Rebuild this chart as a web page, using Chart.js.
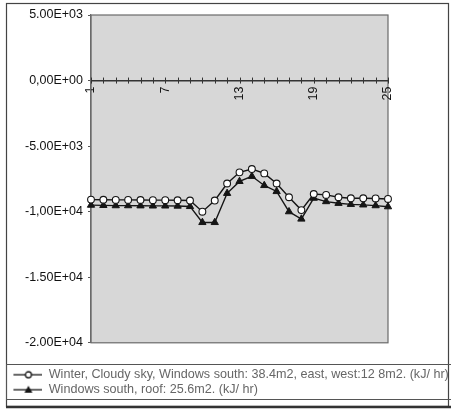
<!DOCTYPE html>
<html>
<head>
<meta charset="utf-8">
<script src="https://cdn.jsdelivr.net/npm/chart.js@4.4.1/dist/chart.umd.min.js"></script>
<style>
  html, body { margin: 0; padding: 0; background: #fff; }
  #wrap { width: 451px; height: 412px; position: relative; }
</style>
</head>
<body>
<div id="wrap"><canvas id="heat-chart"></canvas></div>
<script>
// hours of the day
const hours = ['1','2','3','4','5','6','7','8','9','10','11','12','13','14','15','16','17','18','19','20','21','22','23','24','25'];

// Winter, cloudy sky, windows south 38.4m2, east/west 12.8m2 (kJ/hr)
const winterCloudy = [-9080, -9090, -9100, -9100, -9110, -9120, -9120, -9130, -9150, -10000, -9150, -7850, -7000, -6750, -7080, -7850, -8900, -9880, -8650, -8720, -8900, -8980, -8980, -8990, -9030];

// Windows south, roof 25.6m2 (kJ/hr)
const southRoof = [-9500, -9520, -9540, -9540, -9550, -9560, -9560, -9570, -9600, -10820, -10820, -8600, -7690, -7300, -8000, -8460, -10000, -10560, -8970, -9230, -9360, -9440, -9480, -9540, -9620];

const seriesNames = [
    'Winter, Cloudy sky, Windows south: 38.4m2, east, west:12 8m2. (kJ/ hr)',
    'Windows south, roof: 25.6m2. (kJ/ hr)'
];

// y tick labels, bottom to top
const yTickLabels = ['-2.00E+04', '-1.50E+04', '-1,00E+04', '-5.00E+03', '0,00E+00', '5.00E+03'];
const shownHours = ['1', '7', '13', '19', '25'];

const ink = '#151515';

// legend symbol: short line with the marker in the middle
function legend_symbol(marker) {
    const c = document.createElement('canvas');
    c.width = 40;
    c.height = 10;
    const g = c.getContext('2d');
    g.strokeStyle = ink;
    g.lineWidth = 1.3;
    g.beginPath();
    g.moveTo(11, 5);
    g.lineTo(40, 5);
    g.stroke();
    if (marker === 'circle') {
        g.fillStyle = '#fff';
        g.beginPath();
        g.arc(26, 5, 3, 0, Math.PI * 2);
        g.fill();
        g.stroke();
    } else {
        g.fillStyle = ink;
        g.beginPath();
        g.moveTo(26, 1);
        g.lineTo(30, 8);
        g.lineTo(22, 8);
        g.closePath();
        g.fill();
    }
    return c;
}
const symbols = [legend_symbol('circle'), legend_symbol('triangle')];

// grey plot background, frame, axis tick marks and outer boxes
const framePlugin = {
    id: 'frame',
    beforeDatasetsDraw(chart) {
        const ctx = chart.ctx;
        ctx.save();
        ctx.strokeStyle = '#333';
        ctx.lineWidth = 1;
        const xs = chart.scales.x;
        const y0 = chart.scales.y.getPixelForValue(0);
        for (let i = 0; i < hours.length; i++) {
            const x = Math.round(xs.getPixelForValue(i)) + 0.5;
            ctx.beginPath();
            ctx.moveTo(x, y0 - 3);
            ctx.lineTo(x, y0 + 3);
            ctx.stroke();
        }
        ctx.restore();
    },
    beforeDraw(chart) {
        const a = chart.chartArea;
        const ctx = chart.ctx;
        ctx.save();
        ctx.fillStyle = '#d7d7d7';
        ctx.fillRect(a.left, a.top, a.right - a.left, a.bottom - a.top);
        ctx.strokeStyle = '#6a6a6a';
        ctx.lineWidth = 1.2;
        ctx.strokeRect(a.left, a.top, a.right - a.left, a.bottom - a.top);
        ctx.restore();
    },
    afterDraw(chart) {
        const ctx = chart.ctx;
        ctx.save();
        ctx.strokeStyle = '#444';
        ctx.lineWidth = 1.2;
        ctx.strokeRect(6.5, 3.5, 442, 403);
        ctx.strokeStyle = '#555';
        ctx.lineWidth = 1;
        ctx.strokeRect(6.5, 364.5, 450, 35);
        ctx.lineWidth = 2.5;
        ctx.strokeStyle = '#333';
        ctx.beginPath();
        ctx.moveTo(6, 407);
        ctx.lineTo(451, 407);
        ctx.stroke();
        ctx.restore();
    }
};

const data = {
    labels: hours,
    datasets: [
        {
            label: seriesNames[0],
            data: winterCloudy,
            borderColor: ink,
            borderWidth: 1.4,
            pointStyle: 'circle',
            pointRadius: 3.4,
            pointBackgroundColor: '#fff',
            pointBorderColor: ink,
            pointBorderWidth: 1.1,
            tension: 0
        },
        {
            label: seriesNames[1],
            data: southRoof,
            borderColor: ink,
            borderWidth: 1.4,
            pointStyle: 'triangle',
            pointRadius: 4.2,
            pointBackgroundColor: ink,
            pointBorderColor: ink,
            pointBorderWidth: 1,
            tension: 0
        }
    ]
};

const tickFont = { family: 'Liberation Sans, Arial, sans-serif', size: 12.5 };

const options = {
    responsive: true,
    maintainAspectRatio: false,
    animation: false,
    layout: { padding: { top: 15, right: 0, left: 0, bottom: 6 } },
    scales: {
        x: {
            type: 'category',
            position: { y: 0 },
            grid: { display: false, drawTicks: false },
            border: { display: true, color: '#333', width: 1.5 },
            ticks: {
                autoSkip: false,
                minRotation: 90,
                maxRotation: 90,
                padding: 6,
                color: '#111',
                font: tickFont,
                callback: function (v) {
                    const lab = this.getLabelForValue(v);
                    return shownHours.includes(lab) ? lab : '';
                }
            }
        },
        y: {
            min: -20000,
            max: 5000,
            grid: { drawOnChartArea: false, drawTicks: true, tickLength: 3, color: '#555' },
            border: { display: true, color: '#6a6a6a', width: 1.2 },
            ticks: {
                stepSize: 5000,
                padding: 5,
                color: '#111',
                font: tickFont,
                callback: (v, i) => yTickLabels[i]
            },
            afterFit: (scale) => { scale.width = 91; }
        },
        // empty right axis, only keeps the white margin right of the plot
        yRight: {
            position: 'right',
            min: -20000,
            max: 5000,
            grid: { display: false },
            border: { display: false },
            ticks: { display: false },
            afterFit: (scale) => { scale.width = 63; }
        }
    },
    plugins: {
        tooltip: { enabled: false },
        legend: {
            position: 'bottom',
            align: 'start',
            title: { display: true, text: '', padding: { top: 22, bottom: 0 }, font: { size: 1 } },
            labels: {
                usePointStyle: true,
                pointStyleWidth: 40,
                padding: 2.4,
                color: '#111',
                font: { family: 'Liberation Sans, Arial, sans-serif', size: 12.6 },
                generateLabels: (chart) => chart.data.datasets.map((ds, i) => ({
                    text: ds.label,
                    pointStyle: symbols[i],
                    fillStyle: ink,
                    strokeStyle: ink,
                    lineWidth: 0,
                    datasetIndex: i,
                    hidden: false
                }))
            }
        }
    }
};

const ctx = document.getElementById('heat-chart').getContext('2d');
const heat_chart = new Chart(ctx, {
    type: 'line',
    data: data,
    options: options,
    plugins: [framePlugin]
});
</script>
</body>
</html>
